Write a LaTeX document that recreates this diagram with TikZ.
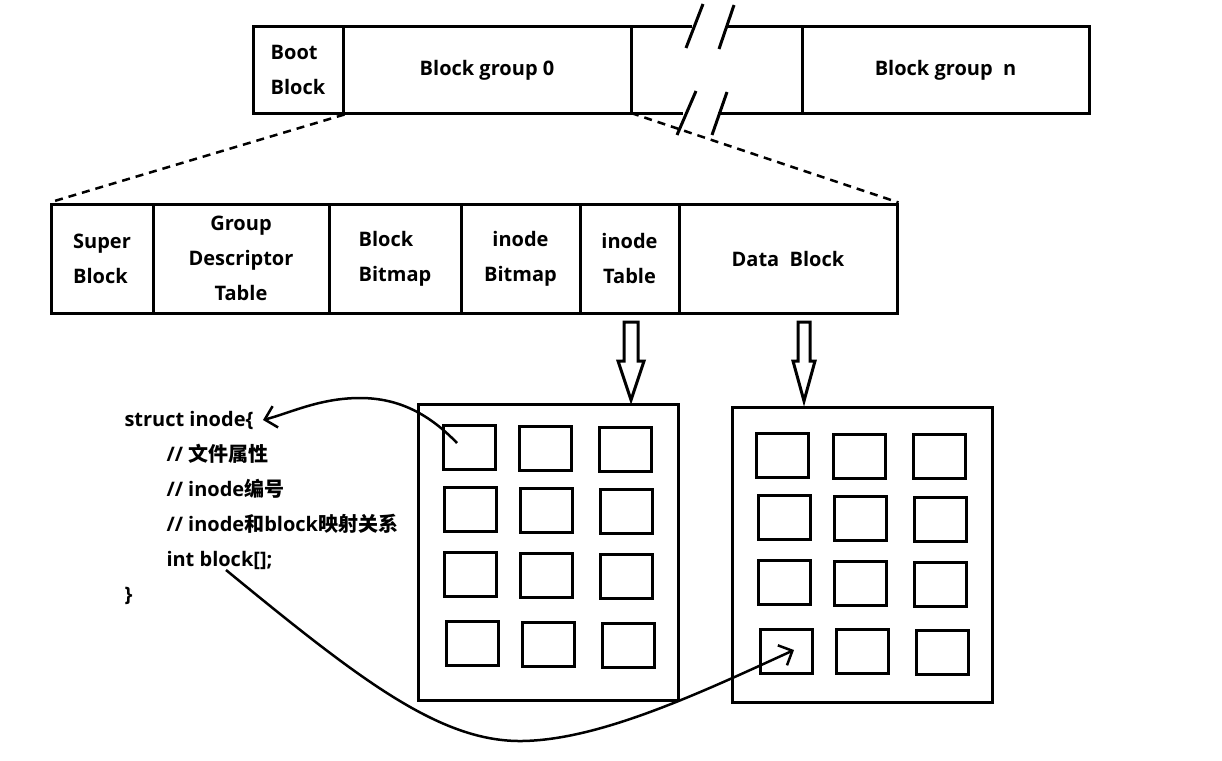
\documentclass[tikz,border=0pt]{standalone}
\usepackage{fontspec}
\setmainfont{Open Sans}
\newfontfamily\cjk{Noto Sans CJK SC}
\usetikzlibrary{arrows.meta}
\begin{document}
\begin{tikzpicture}[x=1pt,y=-1pt, line width=3pt,
  cell/.style={draw, line width=3pt, inner sep=0pt, font=\fontsize{20}{35}\selectfont\bfseries, align=center},
  box/.style={draw, line width=3pt, inner sep=0pt},
  sq/.style={draw, line width=3pt, inner sep=0pt, minimum width=52pt, minimum height=44pt},
  code/.style={anchor=base west, inner sep=0pt, font=\fontsize{20}{24}\selectfont\bfseries},
  dash line/.style={line width=2.5pt, dash pattern=on 8pt off 6pt},
  link/.style={line width=2.5pt, -{Straight Barb[length=11pt,width=22pt,line width=2.5pt]}},
  hollow/.style={line width=3pt, line join=miter}
]
\useasboundingbox (0,0) rectangle (1222,760);
% top bar
\node[cell, align=left, minimum width=90pt, minimum height=86pt] (boot) at (298,70) {Boot\\Block};
\node[cell, minimum width=288pt, minimum height=86pt] (g0) at (487,70) {Block group 0};
\node[inner sep=0pt, outer sep=0pt, minimum width=171pt, minimum height=86pt] (gap) at (716.5,70) {};
\node[cell, minimum width=287pt, minimum height=86pt] (gn) at (945.5,70) {Block group\ \ n};
\draw (gap.north west) -- (692,27) (727,27) -- (gap.north east);
\draw (gap.south west) -- (683,113) (718,113) -- (gap.south east);
\draw (686,48) -- (703,4) (719,49) -- (734,5);
\draw (677,135) -- (696,91) (712,135) -- (727,92);
% middle bar
\node[cell, align=left, minimum width=102pt, minimum height=109pt] (super) at (102,258.5) {Super\\Block};
\node[cell, minimum width=176pt, minimum height=109pt] (gdt) at (241,258.5) {Group\\Descriptor\\Table};
\node[cell, align=left, minimum width=132pt, minimum height=109pt] (bbmp) at (395,258.5) {Block\\Bitmap};
\node[cell, minimum width=119pt, minimum height=109pt] (ibmp) at (520.5,258.5) {inode\\Bitmap};
\node[cell, minimum width=99pt, minimum height=109pt] (itab) at (629.5,258.5) {inode\\Table};
\node[cell, minimum width=218pt, minimum height=109pt] (data) at (788,258.5) {Data\ \ Block};
\draw[dash line] (boot.south east) -- (super.north west);
\draw[dash line] (gap.south west) -- (data.north east);
% hollow arrows
\draw[hollow] (624,322) -- (638,322) -- (638,361) -- (644,361) -- (631,400) -- (618,361) -- (624,361) -- cycle;
\draw[hollow] (798,322) -- (810,322) -- (810,361) -- (815,361) -- (804,401) -- (793,361) -- (798,361) -- cycle;
% grids
\node[box, minimum width=260pt, minimum height=296pt] (gridA) at (548,552) {};
\node[box, minimum width=260pt, minimum height=295pt] (gridB) at (862,554.5) {};
\node[sq] (a11) at (469,447) {};
\node[sq] (a12) at (545,448) {};
\node[sq] (a13) at (625,449) {};
\node[sq] (a21) at (470,509) {};
\node[sq] (a22) at (546,510) {};
\node[sq] (a23) at (626,511) {};
\node[sq] (a31) at (470,574) {};
\node[sq] (a32) at (546,575) {};
\node[sq] (a33) at (626,576) {};
\node[sq] (a41) at (472,643) {};
\node[sq] (a42) at (548,644) {};
\node[sq] (a43) at (628,645) {};
\node[sq] (b11) at (782.5,455) {};
\node[sq] (b12) at (859,456) {};
\node[sq] (b13) at (939,456.5) {};
\node[sq] (b21) at (784,517) {};
\node[sq] (b22) at (860,518) {};
\node[sq] (b23) at (940,519) {};
\node[sq] (b31) at (784,582) {};
\node[sq] (b32) at (860,583) {};
\node[sq] (b33) at (940,584) {};
\node[sq] (b41) at (786,651) {};
\node[sq] (b42) at (862,651.5) {};
\node[sq] (b43) at (942,652.5) {};
% code
\node[code] (l1) at (123,426) {struct inode\{};
\node[code] (l2) at (165,461) {// {\cjk 文件属性}};
\node[code] (l3) at (165,496) {// inode{\cjk 编号}};
\node[code] (l4) at (165,531) {// inode{\cjk 和}block{\cjk 映射关系}};
\node[code] (l5) at (165,566) {int block[];};
\node[code] (l6) at (123,601) {\}};
% links
\draw[link] ([shift={(-12,-4)}]a11.center) .. controls (430,415) and (400,398) .. (360,398)
  .. controls (320,398) and (290,413) .. ([shift={(8,0)}]l1.east);
\draw[link] ([shift={(61,4)}]l5.base west) .. controls (360,680) and (440,742) .. (522,741)
  .. controls (600,740) and (700,693) .. ([shift={(8,-1)}]b41.center);
\end{tikzpicture}
\end{document}
